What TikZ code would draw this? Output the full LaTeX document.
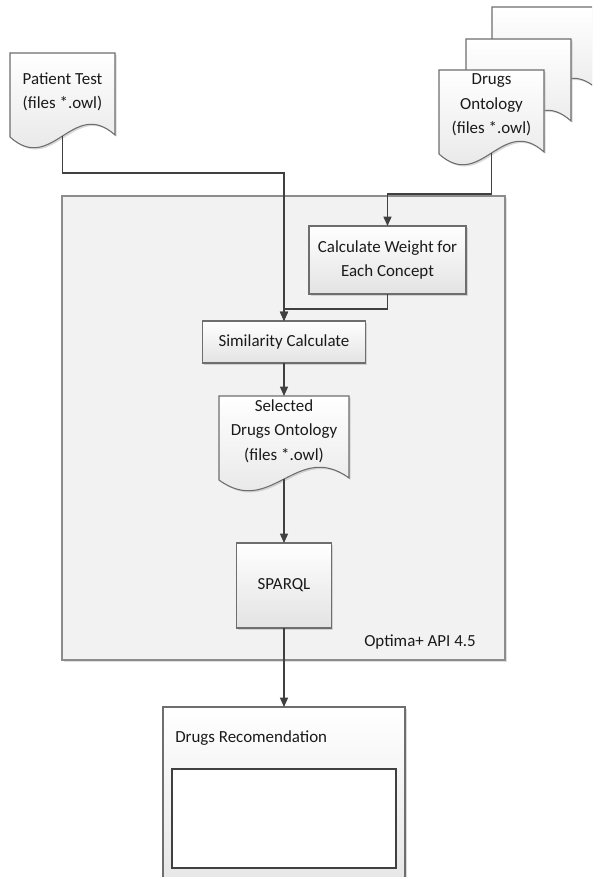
\documentclass[tikz,border=0pt]{standalone}
\usepackage{fontspec}
\setmainfont{Carlito}
\usetikzlibrary{arrows.meta,shadows,calc}
\definecolor{bordc}{HTML}{6E6E6E}
\definecolor{connc}{HTML}{404040}
\definecolor{contc}{HTML}{8C8C8C}
\definecolor{contf}{HTML}{F2F2F2}
\definecolor{txtc}{HTML}{1A1A1A}
\tikzset{
  lbl/.style={font=\fontsize{12.7}{18.4}\selectfont, text=txtc, align=center, inner sep=0pt},
  box/.style={draw=bordc, line width=0.8pt, top color=white, bottom color=black!11,
    drop shadow={shadow xshift=1.3pt, shadow yshift=-1.3pt, fill=black!30, opacity=0.5},
    inner sep=0pt, outer sep=0pt, font=\fontsize{12.7}{18.4}\selectfont, text=txtc, align=center},
  docst/.style={draw=bordc, line width=0.8pt, top color=white, bottom color=black!11},
  docsh/.style={fill=black!30, opacity=0.5},
  container/.style={draw=contc, line width=1.4pt, fill=contf, inner sep=0pt, outer sep=0pt,
    drop shadow={shadow xshift=1.3pt, shadow yshift=-1.3pt, fill=black!25, opacity=0.5}},
  inbox/.style={draw=connc, line width=0.8pt, fill=white, inner sep=0pt, outer sep=0pt},
  conn/.style={draw=connc, line width=1pt, -{Triangle[length=7pt,width=6pt]}},
  seg/.style={draw=connc, line width=1pt},
}
% document shape: #1 x, #2 y (top-left), #3 width, #4 name
\newcommand\mydoc[4]{%
  \path[docsh, shift={(1.7,1.7)}] (#1,#2) -- (#1+#3,#2) -- (#1+#3,#2+82)
    .. controls (#1+0.6*#3,#2+82-38) and (#1+0.4*#3,#2+84+38) .. (#1,#2+84) -- cycle;
  \path[docst] (#1,#2) -- (#1+#3,#2) -- (#1+#3,#2+82)
    .. controls (#1+0.6*#3,#2+82-38) and (#1+0.4*#3,#2+84+38) .. (#1,#2+84) -- cycle;
  \coordinate (#4-top) at (#1+0.5*#3,#2);
  \coordinate (#4-bot) at (#1+0.5*#3,#2+83);
}
\begin{document}
\begin{tikzpicture}[x=0.75pt,y=-0.75pt]
\useasboundingbox (0,0) rectangle (592,877);
\clip (0,0) rectangle (592,877);
\fill[white] (0,0) rectangle (592,877);

% container
\node[container, minimum width=332.25pt, minimum height=348pt] (api) at (283.5,428) {};
\node[lbl, anchor=center] (apilbl) at (420,642) {Optima+ API 4.5};

% patient test document
\mydoc{10}{53}{105}{pt}
\node[lbl] (ptlbl) at (62.5,92) {Patient Test\\(files *.owl)};

% drugs ontology stack
\mydoc{492}{7}{105}{dback}
\mydoc{466}{39}{105}{dmid}
\mydoc{439}{70}{105}{dr}
\node[lbl] (drlbl) at (491.5,105) {Drugs\\Ontology\\(files *.owl)};

% process boxes
\node[box, minimum width=117.75pt, minimum height=51pt] (cw) at (387.5,260) {Calculate Weight for\\Each Concept};
\node[box, minimum width=122.25pt, minimum height=31.5pt] (sim) at (284,342) {Similarity Calculate};

\mydoc{219}{396}{130}{sel}
\node[lbl] (sellbl) at (284,431) {Selected\\Drugs Ontology\\(files *.owl)};

\node[box, minimum width=71.25pt, minimum height=63.75pt] (sq) at (284,585.5) {SPARQL};

% recommendation
\node[box, minimum width=181.5pt, minimum height=150pt, anchor=north] (rec) at (284,707) {};
\node[lbl, anchor=west] (reclbl) at (175,738) {Drugs Recomendation};
\node[inbox, minimum width=168pt, minimum height=74.25pt] (recin) at (284,818.5) {};

% connectors
\coordinate (pj) at (284,173);
\coordinate (dj) at (387.5,194);
\coordinate (cj) at (284,309);
\draw[conn] (pt-bot) |- (pj) -- (sim.north);
\draw[conn] (dr-bot) |- (dj) -- (cw.north);
\draw[conn] (cw.south) |- (cj) -- (sim.north);
\draw[conn] (sim.south) -- (sel-top);
\draw[conn] (sel-bot) -- (sq.north);
\draw[conn] (sq.south) -- (rec.north);
\end{tikzpicture}
\end{document}
